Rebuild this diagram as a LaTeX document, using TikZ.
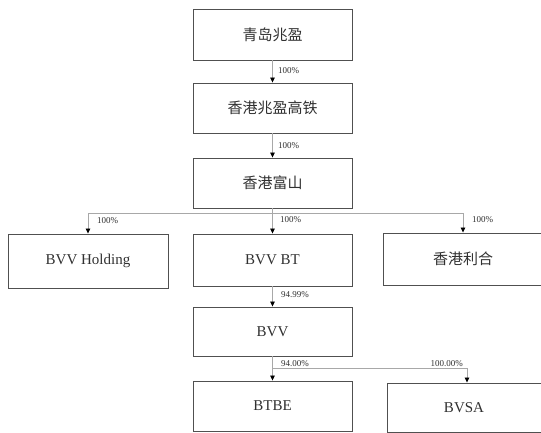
\documentclass[tikz,border=0pt]{standalone}
\usepackage{fontspec}
\setmainfont{Liberation Serif}
\newfontfamily\cjk{Noto Sans CJK SC}
\usetikzlibrary{arrows.meta}
\definecolor{boxline}{HTML}{505050}
\definecolor{conline}{HTML}{A8A8A8}
\definecolor{txt}{HTML}{303030}
\tikzset{
  ent/.style={draw=boxline, line width=0.9pt, minimum width=159pt, inner sep=0pt, text=txt, font=\fontsize{15}{18}\selectfont},
  conn/.style={draw=conline, line width=0.8pt},
  arr/.style={conn, -{Triangle[black,length=5pt,width=4.5pt]}},
  lab/.style={font=\fontsize{9}{10}\selectfont, text=txt, inner sep=0pt},
}
\begin{document}
\begin{tikzpicture}[x=1pt,y=-1pt]
\useasboundingbox (0,0) rectangle (541,432);
\begin{scope}
\clip (0,0) rectangle (541,432);
\node[ent, minimum height=51pt] (A) at (272.5,34.5) {\cjk 青岛兆盈};
\node[ent, minimum height=50pt] (B) at (272.5,108) {\cjk 香港兆盈高铁};
\node[ent, minimum height=50pt] (C) at (272.5,183) {\cjk 香港富山};
\node[ent, minimum height=54pt, minimum width=160pt] (D) at (88,261) {BVV Holding};
\node[ent, minimum height=52pt] (E) at (272.5,260) {BVV BT};
\node[ent, minimum height=52pt, minimum width=160pt] (F) at (463,259) {\cjk 香港利合};
\node[ent, minimum height=49pt] (G) at (272.5,331.5) {BVV};
\node[ent, minimum height=50pt] (H) at (272.5,406) {BTBE};
\node[ent, minimum height=49pt, minimum width=160pt] (I) at (467,407.5) {};
\node[text=txt, font=\fontsize{15}{18}\selectfont] (It) at (464,407.5) {BVSA};

\draw[arr] (A.south) -- (B.north);
\draw[arr] (B.south) -- (C.north);
\coordinate (c1) at (272.5,213);
\draw[conn] (C.south) -- (c1);
\draw[arr] (c1) -| (D.north);
\draw[arr] (c1) -- (E.north);
\draw[arr] (c1) -| (F.north);
\draw[arr] (E.south) -- (G.north);
\coordinate (g1) at (272.5,368);
\draw[conn] (G.south) -- (g1);
\draw[arr] (g1) -- (H.north);
\draw[arr] (g1) -| (I.north);

\node[lab, anchor=west] (l1) at (278,71) {100\%};
\node[lab, anchor=west] (l2) at (278,146) {100\%};
\node[lab, anchor=west] (l3) at (97,221) {100\%};
\node[lab, anchor=west] (l4) at (280,220) {100\%};
\node[lab, anchor=west] (l5) at (472,220) {100\%};
\node[lab, anchor=west] (l6) at (281,295) {94.99\%};
\node[lab, anchor=west] (l7) at (281,364) {94.00\%};
\node[lab, anchor=east] (l8) at (463,364) {100.00\%};
\end{scope}
\end{tikzpicture}
\end{document}
